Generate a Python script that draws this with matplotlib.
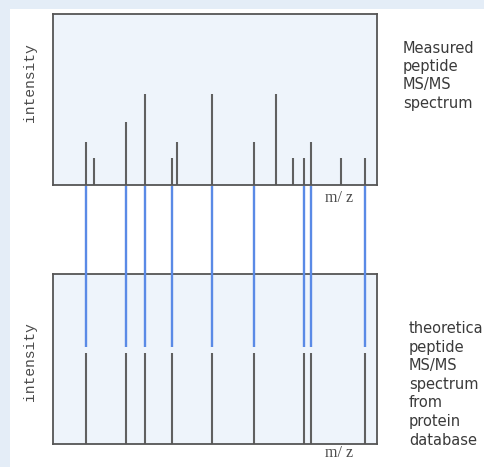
import matplotlib
matplotlib.use("Agg")
import matplotlib.pyplot as plt
from matplotlib.patches import Rectangle

# ---- data (m/z in arbitrary units 0-100, intensity 0-100) ----
measured_mz = [10.1, 12.6, 22.5, 28.2, 36.6, 38.2, 48.8, 61.9, 68.7, 73.9, 77.2, 79.5, 88.8, 96.0]
measured_int = [25, 16, 37, 53, 16, 25, 53, 25, 53, 16, 16, 25, 16, 16]
theoretical_mz = [10.1, 22.5, 28.2, 36.6, 48.8, 61.9, 77.2, 79.5, 96.0]
theoretical_int = [53.5] * len(theoretical_mz)
top_label = "Measured\npeptide\nMS/MS\nspectrum"
bottom_label = "theoretical\npeptide\nMS/MS\nspectrum\nfrom\nprotein\ndatabase"
y_label = "intensity"
x_label = "m/ z"

W, H = 485, 467
fig = plt.figure(figsize=(W / 100, H / 100), dpi=100)
fig.patch.set_facecolor("white")

def fx(px):
    return px / W

def fy(py):
    return 1 - py / H

# light blue frame strips (left and top)
fig.patches.append(Rectangle((0, 0), fx(10), 1, transform=fig.transFigure,
                             facecolor="#e4edf7", edgecolor="none", zorder=0))
fig.patches.append(Rectangle((0, fy(9)), 1, 1 - fy(9), transform=fig.transFigure,
                             facecolor="#e4edf7", edgecolor="none", zorder=0))

L, R = 53.5, 377.5
gray = "#606060"
blue = "#5a8ae6"
face = "#eef4fb"

def make_ax(top, bottom):
    ax = fig.add_axes([fx(L), fy(bottom), fx(R - L), (bottom - top) / H])
    ax.set_facecolor(face)
    ax.set_xlim(0, 100)
    ax.set_ylim(0, 100)
    ax.set_xticks([])
    ax.set_yticks([])
    for s in ax.spines.values():
        s.set_color("#555555")
        s.set_linewidth(1.3)
    return ax

ax1 = make_ax(14, 185)
ax1.vlines(measured_mz, 0, measured_int, color=gray, linewidth=1.5)

ax2 = make_ax(274, 444)
ax2.vlines(theoretical_mz, 0, theoretical_int, color=gray, linewidth=1.5)

# connecting blue lines (overlay spanning from below top panel into bottom panel)
axc = fig.add_axes([fx(L), fy(347), fx(R - L), (347 - 186) / H])
axc.set_xlim(0, 100)
axc.set_ylim(0, 1)
axc.axis("off")
axc.patch.set_alpha(0)
axc.vlines(theoretical_mz, 0, 1, color=blue, linewidth=1.7)

# axis labels
mono = "Liberation Mono"
fig.text(fx(30), fy(83), y_label, rotation=90, ha="center", va="center",
         family=mono, fontsize=10.5, color="#4a4a4a")
fig.text(fx(30), fy(362), y_label, rotation=90, ha="center", va="center",
         family=mono, fontsize=10.5, color="#4a4a4a")
fig.text(fx(339), fy(198), x_label, ha="center", va="center",
         family="Liberation Serif", fontsize=11.5, color="#4a4a4a")
fig.text(fx(339), fy(453), x_label, ha="center", va="center",
         family="Liberation Serif", fontsize=11.5, color="#4a4a4a")

# side descriptions
fig.text(fx(403), fy(41), top_label, ha="left", va="top",
         family="DejaVu Sans", fontsize=10.5, color="#3a3a3a", linespacing=1.27)
fig.text(fx(409), fy(321), bottom_label, ha="left", va="top",
         family="DejaVu Sans", fontsize=10.5, color="#3a3a3a", linespacing=1.3)

fig.savefig("out.png", dpi=100, facecolor=fig.get_facecolor())
